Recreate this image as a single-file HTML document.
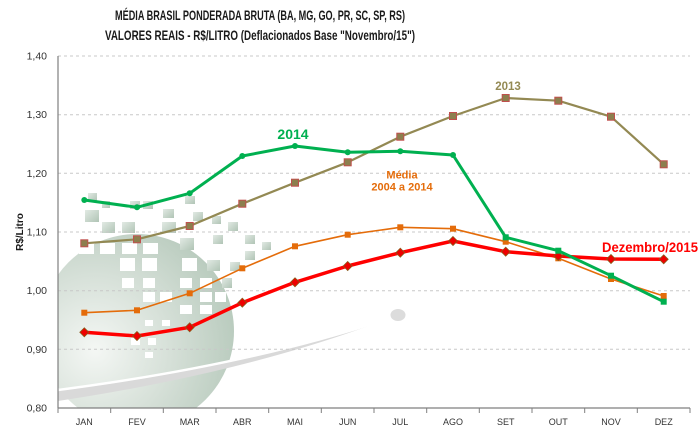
<!DOCTYPE html>
<html>
<head>
<meta charset="utf-8">
<style>
html,body{margin:0;padding:0;background:#fff;}
svg{display:block;}
text{font-family:"Liberation Sans",Arial,sans-serif;}
</style>
</head>
<body>
<svg width="700" height="433" viewBox="0 0 700 433" xmlns="http://www.w3.org/2000/svg">
<defs>
  <radialGradient id="globe" cx="95" cy="350" r="150" gradientUnits="userSpaceOnUse">
    <stop offset="0" stop-color="#f4f7f4"/>
    <stop offset="0.5" stop-color="#d6e0d8"/>
    <stop offset="1" stop-color="#b6c9bb"/>
  </radialGradient>
  <linearGradient id="sq" x1="0" y1="0" x2="1" y2="1">
    <stop offset="0" stop-color="#e2eae4"/>
    <stop offset="1" stop-color="#b0c4b5"/>
  </linearGradient>
  <clipPath id="plot"><rect x="58" y="56" width="632" height="352"/></clipPath>
</defs>

<!-- Title -->
<text x="260" y="20" font-size="14" font-weight="bold" text-anchor="middle" textLength="290" lengthAdjust="spacingAndGlyphs" fill="#1a1a1a">MÉDIA BRASIL PONDERADA BRUTA (BA, MG, GO, PR, SC, SP, RS)</text>
<text x="260" y="40" font-size="14" font-weight="bold" text-anchor="middle" textLength="310" lengthAdjust="spacingAndGlyphs" fill="#1a1a1a">VALORES REAIS - R$/LITRO (Deflacionados Base "Novembro/15")</text>

<!-- Background decoration -->
<g clip-path="url(#plot)">
  <circle cx="137" cy="331" r="97" fill="url(#globe)"/>
  <g fill="url(#sq)">
    <rect x="88" y="193" width="9" height="8"/>
    <rect x="102" y="201" width="8" height="7"/>
    <rect x="85" y="210" width="14" height="12"/>
    <rect x="102" y="222" width="13" height="11"/>
    <rect x="122" y="222" width="13" height="11"/>
    <rect x="130" y="201" width="10" height="8"/>
    <rect x="143" y="201" width="10" height="8"/>
    <rect x="163" y="209" width="11" height="9"/>
    <rect x="162" y="222" width="14" height="11"/>
    <rect x="185" y="196" width="10" height="8"/>
    <rect x="193" y="212" width="10" height="9"/>
    <rect x="212" y="216" width="9" height="8"/>
    <rect x="180" y="238" width="14" height="12"/>
    <rect x="213" y="235" width="10" height="9"/>
    <rect x="228" y="222" width="10" height="9"/>
    <rect x="245" y="235" width="10" height="9"/>
    <rect x="262" y="242" width="9" height="8"/>
    <rect x="245" y="251" width="10" height="9"/>
    <rect x="207" y="260" width="13" height="11"/>
    <rect x="230" y="262" width="10" height="9"/>
    <rect x="222" y="278" width="10" height="10"/>
  </g>
  <g fill="#ffffff">
    <rect x="79" y="243" width="15" height="11"/>
    <rect x="100" y="243" width="15" height="11"/>
    <rect x="122" y="243" width="15" height="11"/>
    <rect x="143" y="243" width="15" height="11"/>
    <rect x="120" y="258" width="15" height="13"/>
    <rect x="142" y="258" width="15" height="13"/>
    <rect x="182" y="258" width="15" height="13"/>
    <rect x="122" y="278" width="12" height="10"/>
    <rect x="143" y="278" width="12" height="10"/>
    <rect x="180" y="278" width="12" height="10"/>
    <rect x="200" y="278" width="12" height="10"/>
    <rect x="143" y="292" width="12" height="10"/>
    <rect x="160" y="292" width="12" height="10"/>
    <rect x="200" y="292" width="12" height="10"/>
    <rect x="215" y="292" width="11" height="10"/>
    <rect x="180" y="305" width="12" height="9"/>
    <rect x="200" y="305" width="12" height="9"/>
    <rect x="145" y="320" width="8" height="6"/>
    <rect x="162" y="320" width="8" height="6"/>
    <rect x="131" y="338" width="9" height="7"/>
    <rect x="148" y="338" width="8" height="7"/>
    <rect x="145" y="352" width="8" height="6"/>
  </g>
  <!-- swoosh -->
  <path d="M58,390 Q250,365 390,318 Q250,372 58,401 Z" fill="#d9d9d9"/>
  <path d="M58,390 Q250,365 390,318" fill="none" stroke="#ffffff" stroke-width="2.5"/>
  <ellipse cx="398" cy="315" rx="7.5" ry="6" fill="#dcdcdc"/>
</g>

<!-- Gridlines -->
<g stroke="#c8c8c8" stroke-width="1" stroke-dasharray="3,3">
  <line x1="58" y1="56" x2="690" y2="56"/>
  <line x1="58" y1="114.7" x2="690" y2="114.7"/>
  <line x1="58" y1="173.3" x2="690" y2="173.3"/>
  <line x1="58" y1="232" x2="690" y2="232"/>
  <line x1="58" y1="290.7" x2="690" y2="290.7"/>
  <line x1="58" y1="349.3" x2="690" y2="349.3"/>
</g>

<!-- Axes -->
<line x1="58" y1="56" x2="58" y2="408" stroke="#7f7f7f" stroke-width="1.2"/>
<line x1="58" y1="408" x2="690" y2="408" stroke="#7f7f7f" stroke-width="1.2"/>
<g stroke="#7f7f7f" stroke-width="1">
  <line x1="58" y1="408" x2="58" y2="413"/>
  <line x1="110.7" y1="408" x2="110.7" y2="413"/>
  <line x1="163.3" y1="408" x2="163.3" y2="413"/>
  <line x1="216" y1="408" x2="216" y2="413"/>
  <line x1="268.7" y1="408" x2="268.7" y2="413"/>
  <line x1="321.3" y1="408" x2="321.3" y2="413"/>
  <line x1="374" y1="408" x2="374" y2="413"/>
  <line x1="426.7" y1="408" x2="426.7" y2="413"/>
  <line x1="479.3" y1="408" x2="479.3" y2="413"/>
  <line x1="532" y1="408" x2="532" y2="413"/>
  <line x1="584.7" y1="408" x2="584.7" y2="413"/>
  <line x1="637.3" y1="408" x2="637.3" y2="413"/>
  <line x1="690" y1="408" x2="690" y2="413"/>
</g>

<!-- Y labels -->
<g font-size="10.5" fill="#333" text-anchor="end">
  <text x="47" y="59.5">1,40</text>
  <text x="47" y="118">1,30</text>
  <text x="47" y="177">1,20</text>
  <text x="47" y="235.5">1,10</text>
  <text x="47" y="294">1,00</text>
  <text x="47" y="353">0,90</text>
  <text x="47" y="411.5">0,80</text>
</g>
<text transform="translate(23,232) rotate(-90)" font-size="10" font-weight="bold" text-anchor="middle" fill="#1a1a1a">R$/Litro</text>

<!-- X labels -->
<g font-size="9" fill="#333" text-anchor="middle">
  <text x="84.3" y="425">JAN</text>
  <text x="137" y="425">FEV</text>
  <text x="189.7" y="425">MAR</text>
  <text x="242.3" y="425">ABR</text>
  <text x="295" y="425">MAI</text>
  <text x="347.7" y="425">JUN</text>
  <text x="400.3" y="425">JUL</text>
  <text x="453" y="425">AGO</text>
  <text x="505.7" y="425">SET</text>
  <text x="558.3" y="425">OUT</text>
  <text x="611" y="425">NOV</text>
  <text x="663.7" y="425">DEZ</text>
</g>

<!-- 2013 series -->
<polyline fill="none" stroke="#938953" stroke-width="2.2" stroke-linejoin="round"
  points="84.3,243.3 137,239.3 189.7,226 242.3,203.7 295,182.7 347.7,162.3 400.3,136.7 453,116 505.7,98 558.3,100.7 611,116.7 663.7,164.3"/>
<g fill="#8c7f4e" stroke="#c0504d" stroke-width="1">
  <rect x="80.8" y="239.8" width="7" height="7"/>
  <rect x="133.5" y="235.8" width="7" height="7"/>
  <rect x="186.2" y="222.5" width="7" height="7"/>
  <rect x="238.8" y="200.2" width="7" height="7"/>
  <rect x="291.5" y="179.2" width="7" height="7"/>
  <rect x="344.2" y="158.8" width="7" height="7"/>
  <rect x="396.8" y="133.2" width="7" height="7"/>
  <rect x="449.5" y="112.5" width="7" height="7"/>
  <rect x="502.2" y="94.5" width="7" height="7"/>
  <rect x="554.8" y="97.2" width="7" height="7"/>
  <rect x="607.5" y="113.2" width="7" height="7"/>
  <rect x="660.2" y="160.8" width="7" height="7"/>
</g>

<!-- Media 2004-2014 series -->
<polyline fill="none" stroke="#e46c0a" stroke-width="1.6" stroke-linejoin="round"
  points="84.3,312.7 137,310.3 189.7,293.3 242.3,268.3 295,246.3 347.7,234.7 400.3,227.3 453,228.7 505.7,241.7 558.3,258.3 611,279 663.7,296"/>
<g fill="#e46c0a">
  <rect x="81.3" y="309.7" width="6" height="6"/>
  <rect x="134" y="307.3" width="6" height="6"/>
  <rect x="186.7" y="290.3" width="6" height="6"/>
  <rect x="239.3" y="265.3" width="6" height="6"/>
  <rect x="292" y="243.3" width="6" height="6"/>
  <rect x="344.7" y="231.7" width="6" height="6"/>
  <rect x="397.3" y="224.3" width="6" height="6"/>
  <rect x="450" y="225.7" width="6" height="6"/>
  <rect x="502.7" y="238.7" width="6" height="6"/>
  <rect x="555.3" y="255.3" width="6" height="6"/>
  <rect x="608" y="276" width="6" height="6"/>
  <rect x="660.7" y="293" width="6" height="6"/>
</g>

<!-- Dezembro/2015 series -->
<polyline fill="none" stroke="#ff0000" stroke-width="3.5" stroke-linejoin="round"
  points="84.3,332.3 137,336 189.7,327.3 242.3,302.7 295,282.3 347.7,266 400.3,252.7 453,241 505.7,251.7 558.3,256 611,259 663.7,259.3"/>
<g fill="#ee0000" stroke="#8a5a1a" stroke-width="0.8">
  <path d="M84.3,327.8 L88.8,332.3 L84.3,336.8 L79.8,332.3 Z"/>
  <path d="M137,331.5 L141.5,336 L137,340.5 L132.5,336 Z"/>
  <path d="M189.7,322.8 L194.2,327.3 L189.7,331.8 L185.2,327.3 Z"/>
  <path d="M242.3,298.2 L246.8,302.7 L242.3,307.2 L237.8,302.7 Z"/>
  <path d="M295,277.8 L299.5,282.3 L295,286.8 L290.5,282.3 Z"/>
  <path d="M347.7,261.5 L352.2,266 L347.7,270.5 L343.2,266 Z"/>
  <path d="M400.3,248.2 L404.8,252.7 L400.3,257.2 L395.8,252.7 Z"/>
  <path d="M453,236.5 L457.5,241 L453,245.5 L448.5,241 Z"/>
  <path d="M505.7,247.2 L510.2,251.7 L505.7,256.2 L501.2,251.7 Z"/>
  <path d="M558.3,251.5 L562.8,256 L558.3,260.5 L553.8,256 Z"/>
  <path d="M611,254.5 L615.5,259 L611,263.5 L606.5,259 Z"/>
  <path d="M663.7,254.8 L668.2,259.3 L663.7,263.8 L659.2,259.3 Z"/>
</g>

<!-- 2014 series -->
<polyline fill="none" stroke="#00b050" stroke-width="3" stroke-linejoin="round"
  points="84.3,200 137,207.3 189.7,193.3 242.3,156 295,146 347.7,152.3 400.3,151.3 453,155 505.7,237.3 558.3,250.7 611,275.7 663.7,301.7"/>
<g fill="#00b050">
  <circle cx="84.3" cy="200" r="3"/>
  <circle cx="137" cy="207.3" r="3"/>
  <circle cx="189.7" cy="193.3" r="3"/>
  <circle cx="242.3" cy="156" r="3"/>
  <circle cx="295" cy="146" r="3"/>
  <circle cx="347.7" cy="152.3" r="3"/>
  <circle cx="400.3" cy="151.3" r="3"/>
  <circle cx="453" cy="155" r="3"/>
  <rect x="502.7" y="234.3" width="6" height="6"/>
  <rect x="555.3" y="247.7" width="6" height="6"/>
  <rect x="608" y="272.7" width="6" height="6"/>
  <rect x="660.7" y="298.7" width="6" height="6"/>
</g>

<!-- Series labels -->
<text x="293" y="139" font-size="14" font-weight="bold" fill="#00b050" text-anchor="middle">2014</text>
<text x="508" y="90" font-size="11.5" font-weight="bold" fill="#948a54" text-anchor="middle">2013</text>
<text x="402" y="178.5" font-size="11" font-weight="bold" fill="#e46c0a" text-anchor="middle">Média</text>
<text x="402" y="190.5" font-size="11" font-weight="bold" fill="#e46c0a" text-anchor="middle">2004 a 2014</text>
<text x="650" y="252" font-size="13.5" font-weight="bold" fill="#ff0000" text-anchor="middle" textLength="96" lengthAdjust="spacingAndGlyphs">Dezembro/2015</text>
</svg>
</body>
</html>
